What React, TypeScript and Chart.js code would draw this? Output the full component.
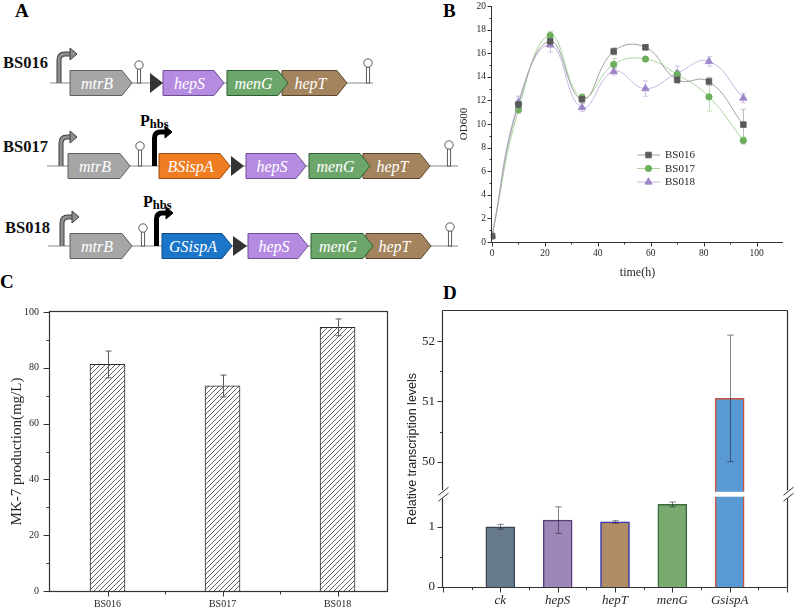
import React, { useEffect, useRef } from 'react';
import { Chart, registerables } from 'chart.js';
import { drawPoint } from 'chart.js/helpers';

Chart.register(...registerables);

const SERIF = '"Liberation Serif", "Times New Roman", serif';
const SANS = '"Liberation Sans", Arial, sans-serif';
const AXIS = '#333333';
const TEXT = '#262626';

// ---------- B: growth curves ----------
const timeHours = [0, 10, 22, 34, 46, 58, 70, 82, 95];
const od600BS016 = [0.5, 11.65, 17.0, 12.1, 16.15, 16.5, 13.75, 13.6, 9.95];
const od600BS016Sd = [0.1, 0.7, 0.3, 0.35, 0.3, 0.2, 0.3, 0.35, 1.3];
const od600BS017 = [0.5, 11.2, 17.5, 12.25, 15.05, 15.5, 14.2, 12.3, 8.6];
const od600BS017Sd = [0.1, 0.3, 0.35, 0.3, 0.5, 0.2, 0.3, 1.2, 0.3];
const od600BS018 = [0.5, 11.85, 16.7, 11.4, 14.45, 13.0, 14.3, 15.3, 12.2];
const od600BS018Sd = [0.1, 0.5, 0.6, 0.35, 0.3, 0.65, 0.6, 0.4, 0.4];

// ---------- C: MK-7 titer ----------
const strains = ['BS016', 'BS017', 'BS018'];
const mk7Titer = [81.2, 73.5, 94.5];
const mk7Sd = [4.8, 3.9, 3.0];

// ---------- D: relative transcription ----------
const genes = ['ck', 'hepS', 'hepT', 'menG', 'GsispA'];
const relTranscription = [1.0, 1.11, 1.08, 1.37, 51.05];
const relTranscriptionSd = [0.04, 0.22, 0.02, 0.04, 1.05];
const lowerRange = [0, 1.5];
const upperRange = [49.42, 52.5];
const breakValue = 49.5;

const growthSeries = [
  { label: 'BS016', values: od600BS016, sd: od600BS016Sd, marker: '#5a5a5a', line: '#a2a2a2', err: '#bdbdbd', pointStyle: 'rect', radius: 4 },
  { label: 'BS017', values: od600BS017, sd: od600BS017Sd, marker: '#6cae5c', line: '#a9d49d', err: '#bcdfb1', pointStyle: 'circle', radius: 3.2 },
  { label: 'BS018', values: od600BS018, sd: od600BS018Sd, marker: '#9d86c8', line: '#c6b8e2', err: '#d0c5e9', pointStyle: 'triangle', radius: 4.3 },
];

const geneFills = ['#687b8e', '#9f86b8', '#b18d65', '#79ab70', '#5a9ad4'];
const geneBorders = ['#3b4652', '#583f7c', '#3535b0', '#3e6b3d', '#c8553d'];

// Pin an axis box to a fixed thickness so the plot area lands where we want it.
const fixSize = (dim: 'width' | 'height', size: number) => (scale: any) => {
  scale[dim] = size;
  scale.paddingTop = 0;
  scale.paddingBottom = 0;
  scale.paddingLeft = 0;
  scale.paddingRight = 0;
};

function drawTicks(ctx: CanvasRenderingContext2D, scale: any, axisPos: number, majorLen: number, minorLen: number, tol = 6) {
  const horizontal = scale.isHorizontal();
  const lo = horizontal ? scale.left : scale.top;
  const hi = horizontal ? scale.right : scale.bottom;
  const majors: number[] = scale.ticks.map((t: any) => t.value);
  const step = majors.length > 1 ? majors[1] - majors[0] : 0;
  const minors: number[] = [];
  if (step > 0) {
    for (let v = majors[0] - step / 2; v <= scale.max + 1e-9; v += step) {
      if (v >= scale.min - 1e-9) minors.push(v);
    }
  }
  ctx.save();
  ctx.strokeStyle = AXIS;
  ctx.lineWidth = 1;
  ctx.beginPath();
  const mark = (v: number, len: number) => {
    const p = Math.round(scale.getPixelForValue(v)) + 0.5;
    if (horizontal) {
      ctx.moveTo(p, axisPos);
      ctx.lineTo(p, axisPos + len);
    } else {
      ctx.moveTo(axisPos, p);
      ctx.lineTo(axisPos - len, p);
    }
  };
  majors.forEach((v) => mark(v, majorLen));
  minors.forEach((v) => {
    const p = scale.getPixelForValue(v);
    if (p - lo < tol || hi - p < tol) return;
    mark(v, minorLen);
  });
  ctx.stroke();
  ctx.restore();
}

function errorBar(ctx: CanvasRenderingContext2D, x: number, yTop: number, yBottom: number, cap: number, color: string, width = 1) {
  const cx = Math.round(x) + 0.5;
  ctx.save();
  ctx.strokeStyle = color;
  ctx.lineWidth = width;
  ctx.beginPath();
  ctx.moveTo(cx, yTop);
  ctx.lineTo(cx, yBottom);
  ctx.moveTo(cx - cap, yTop);
  ctx.lineTo(cx + cap, yTop);
  ctx.moveTo(cx - cap, yBottom);
  ctx.lineTo(cx + cap, yBottom);
  ctx.stroke();
  ctx.restore();
}

function makeHatch(): CanvasPattern | string {
  const tile = document.createElement('canvas');
  tile.width = 5;
  tile.height = 5;
  const g = tile.getContext('2d');
  if (!g) return '#ffffff';
  g.fillStyle = '#ffffff';
  g.fillRect(0, 0, 5, 5);
  g.strokeStyle = '#3c3c3c';
  g.lineWidth = 0.8;
  g.beginPath();
  g.moveTo(-1, 6);
  g.lineTo(6, -1);
  g.moveTo(-1, 1);
  g.lineTo(1, -1);
  g.moveTo(4, 6);
  g.lineTo(6, 4);
  g.stroke();
  return g.createPattern(tile, 'repeat') ?? '#ffffff';
}

// ---------- B ----------
const growthDecor = {
  id: 'growthDecor',
  beforeDatasetsDraw(chart: any) {
    const { ctx, scales: { x, y } } = chart;
    growthSeries.forEach((s) => {
      s.values.forEach((v, i) => {
        errorBar(ctx, x.getPixelForValue(timeHours[i]), y.getPixelForValue(v + s.sd[i]), y.getPixelForValue(v - s.sd[i]), 2.5, s.err, 1);
      });
    });
  },
  afterDraw(chart: any) {
    const { ctx, chartArea: ca, scales: { x, y } } = chart;
    const L = Math.round(ca.left) - 0.5;
    const B = Math.round(ca.bottom) + 0.5;
    ctx.save();
    ctx.strokeStyle = AXIS;
    ctx.lineWidth = 1;
    ctx.beginPath();
    ctx.moveTo(L, ca.top);
    ctx.lineTo(L, B);
    ctx.lineTo(ca.right, B);
    ctx.stroke();
    ctx.restore();
    drawTicks(ctx, x, B, 4, 2);
    drawTicks(ctx, y, L, 4, 2);

    // legend: line segment with marker, then label
    const lx = ca.left + 145;
    const ly = ca.top + 149;
    ctx.save();
    chart.data.datasets.forEach((ds: any, i: number) => {
      const s = growthSeries[i];
      const yy = ly + i * 13.5;
      ctx.strokeStyle = s.line;
      ctx.lineWidth = 1;
      ctx.beginPath();
      ctx.moveTo(lx, yy);
      ctx.lineTo(lx + 23, yy);
      ctx.stroke();
      ctx.fillStyle = s.marker;
      ctx.strokeStyle = s.marker;
      ctx.lineWidth = 0.8;
      drawPoint(ctx, { pointStyle: s.pointStyle as any, radius: s.radius, borderWidth: 0.8, rotation: 0 }, lx + 11.5, yy);
      ctx.fillStyle = TEXT;
      ctx.font = `11px ${SERIF}`;
      ctx.textBaseline = 'middle';
      ctx.textAlign = 'left';
      ctx.fillText(ds.label, lx + 28, yy + 0.5);
    });
    ctx.restore();
  },
};

const growthConfig = (): any => ({
  type: 'line',
  data: {
    datasets: growthSeries.map((s) => ({
      label: s.label,
      data: timeHours.map((t, i) => ({ x: t, y: s.values[i] })),
      borderColor: s.line,
      borderWidth: 1,
      backgroundColor: s.marker,
      pointStyle: s.pointStyle,
      pointRadius: s.radius,
      pointBackgroundColor: s.marker,
      pointBorderColor: s.marker,
      pointBorderWidth: 0.8,
      tension: 0.45,
      fill: false,
    })),
  },
  options: {
    responsive: false,
    animation: false,
    devicePixelRatio: 1,
    layout: { padding: { left: 0, top: 6, right: 11, bottom: 0 } },
    plugins: { legend: { display: false }, tooltip: { enabled: false } },
    scales: {
      x: {
        type: 'linear',
        min: 0,
        max: 110,
        afterFit: fixSize('height', 48),
        grid: { display: false, drawTicks: false },
        border: { display: false },
        ticks: { stepSize: 20, includeBounds: false, padding: 6, color: TEXT, font: { family: SERIF, size: 9.5 } },
        title: { display: true, text: 'time(h)', color: TEXT, font: { family: SERIF, size: 12 }, padding: { top: 0, bottom: 10 } },
      },
      y: {
        type: 'linear',
        min: 0,
        max: 20,
        afterFit: fixSize('width', 92),
        grid: { display: false, drawTicks: false },
        border: { display: false },
        ticks: { stepSize: 2, includeBounds: false, padding: 6, color: TEXT, font: { family: SERIF, size: 9.5 } },
        title: { display: true, text: 'OD600', color: TEXT, font: { family: SERIF, size: 11 }, padding: { top: 58, bottom: 0 } },
      },
    },
  },
  plugins: [growthDecor],
});

// ---------- C ----------
const titerDecor = {
  id: 'titerDecor',
  afterDraw(chart: any) {
    const { ctx, chartArea: ca, scales: { x, y } } = chart;
    mk7Titer.forEach((v, i) => {
      errorBar(ctx, x.getPixelForValue(i + 1), y.getPixelForValue(v + mk7Sd[i]), y.getPixelForValue(v - mk7Sd[i]), 3, '#5a5a5a', 1);
    });
    const L = Math.round(ca.left) - 0.5;
    const R = Math.round(ca.right) + 0.5;
    const T = Math.round(ca.top) - 0.5;
    const B = Math.round(ca.bottom) + 0.5;
    ctx.save();
    ctx.strokeStyle = AXIS;
    ctx.lineWidth = 1.2;
    ctx.strokeRect(L, T, R - L, B - T);
    ctx.restore();
    drawTicks(ctx, x, B, 5, 3);
    drawTicks(ctx, y, L, 6, 3);
  },
};

const titerConfig = (): any => ({
  type: 'bar',
  data: {
    datasets: [
      {
        label: 'MK-7',
        data: strains.map((_, i) => ({ x: i + 1, y: mk7Titer[i] })),
        backgroundColor: makeHatch(),
        borderColor: '#2a2a2a',
        borderWidth: 1,
        barThickness: 35,
      },
    ],
  },
  options: {
    responsive: false,
    animation: false,
    devicePixelRatio: 1,
    layout: { padding: { left: 0, top: 22, right: 13, bottom: 0 } },
    plugins: { legend: { display: false }, tooltip: { enabled: false } },
    scales: {
      x: {
        type: 'linear',
        offset: false,
        min: 0.5,
        max: 3.43,
        afterFit: fixSize('height', 22),
        grid: { display: false, drawTicks: false },
        border: { display: false },
        ticks: {
          stepSize: 1,
          includeBounds: false,
          padding: 7,
          color: TEXT,
          font: { family: SERIF, size: 10 },
          callback: (v: number) => strains[v - 1] ?? '',
        },
      },
      y: {
        type: 'linear',
        min: 0,
        max: 100,
        afterFit: fixSize('width', 50),
        grid: { display: false, drawTicks: false },
        border: { display: false },
        ticks: { stepSize: 20, includeBounds: false, padding: 11, color: TEXT, font: { family: SERIF, size: 10 } },
        title: { display: true, text: 'MK-7 production(mg/L)', color: TEXT, font: { family: SERIF, size: 15 }, padding: { top: 8, bottom: 0 } },
      },
    },
  },
  plugins: [titerDecor],
});

// ---------- D ----------
const transcriptionDecor = {
  id: 'transcriptionDecor',
  afterDatasetsDraw(chart: any) {
    const { ctx, chartArea: ca, scales } = chart;
    const hi = scales.yHigh;
    const lo = scales.yLow;
    const x = scales.x;
    const gapTop = hi.getPixelForValue(breakValue);
    ctx.save();
    ctx.fillStyle = '#ffffff';
    ctx.fillRect(ca.left + 1, gapTop, ca.right - ca.left - 2, lo.top - gapTop);
    ctx.restore();
    relTranscription.forEach((v, i) => {
      const sc = v > lo.max ? hi : lo;
      const sd = relTranscriptionSd[i];
      errorBar(ctx, x.getPixelForValue(i + 1), sc.getPixelForValue(v + sd), sc.getPixelForValue(v - sd), 3.3, 'rgba(30,30,45,0.55)', 1);
    });
  },
  afterDraw(chart: any) {
    const { ctx, chartArea: ca, scales } = chart;
    const hi = scales.yHigh;
    const lo = scales.yLow;
    const x = scales.x;
    const L = Math.round(ca.left) - 0.5;
    const R = Math.round(ca.right) + 0.5;
    const T = Math.round(ca.top) - 0.5;
    const B = Math.round(ca.bottom) + 0.5;
    const mid = (hi.getPixelForValue(breakValue) + lo.top) / 2;
    ctx.save();
    ctx.strokeStyle = AXIS;
    ctx.lineWidth = 1.2;
    ctx.beginPath();
    ctx.moveTo(L, T);
    ctx.lineTo(R, T);
    ctx.moveTo(L, B);
    ctx.lineTo(R, B);
    [L, R].forEach((xx) => {
      ctx.moveTo(xx, T);
      ctx.lineTo(xx, mid - 4);
      ctx.moveTo(xx, mid + 4);
      ctx.lineTo(xx, B);
    });
    ctx.stroke();
    // break marks
    ctx.lineWidth = 1;
    ctx.beginPath();
    [L + 1, R + 1].forEach((xx) => {
      [-3, 3].forEach((dy) => {
        ctx.moveTo(xx - 5, mid + dy + 4);
        ctx.lineTo(xx + 5, mid + dy - 4);
      });
    });
    ctx.stroke();
    ctx.restore();

    drawTicks(ctx, x, B, 5, 2.5);
    drawTicks(ctx, lo, L, 5, 2.5);
    drawTicks(ctx, hi, L, 5, 2.5);

    // y-axis title spans both segments of the broken axis
    ctx.save();
    ctx.translate(13, (ca.top + ca.bottom) / 2);
    ctx.rotate(-Math.PI / 2);
    ctx.fillStyle = TEXT;
    ctx.font = `12.5px ${SANS}`;
    ctx.textAlign = 'center';
    ctx.textBaseline = 'middle';
    ctx.fillText('Relative transcription levels', 0, 0);
    ctx.restore();
  },
};

const transcriptionConfig = (): any => {
  const points = genes.map((_, i) => ({ x: i + 1, y: relTranscription[i] }));
  const barStyle = {
    backgroundColor: geneFills,
    borderColor: geneBorders,
    borderWidth: 1.5,
    barThickness: 29,
    grouped: false,
  };
  return {
    type: 'bar',
    data: {
      datasets: [
        { label: 'lower', yAxisID: 'yLow', data: points, ...barStyle },
        { label: 'upper', yAxisID: 'yHigh', data: points, ...barStyle },
      ],
    },
    options: {
      responsive: false,
      animation: false,
      devicePixelRatio: 1,
      layout: { padding: { left: 0, top: 21, right: 7, bottom: 0 } },
      plugins: { legend: { display: false }, tooltip: { enabled: false } },
      scales: {
        x: {
          type: 'linear',
          offset: false,
          min: 0,
          max: 6,
          afterFit: fixSize('height', 26),
          grid: { display: false, drawTicks: false },
          border: { display: false },
          ticks: {
            stepSize: 1,
            includeBounds: false,
            padding: 6,
            color: TEXT,
            font: { family: SERIF, size: 13, style: 'italic' },
            callback: (v: number) => genes[v - 1] ?? '',
          },
        },
        yHigh: {
          type: 'linear',
          position: 'left',
          stack: 'levels',
          stackWeight: upperRange[1] - upperRange[0],
          weight: 1,
          min: upperRange[0],
          max: upperRange[1],
          afterFit: fixSize('width', 43),
          grid: { display: false, drawTicks: false },
          border: { display: false },
          ticks: { stepSize: 1, includeBounds: false, padding: 8, color: TEXT, font: { family: SERIF, size: 13 } },
        },
        yLow: {
          type: 'linear',
          position: 'left',
          stack: 'levels',
          stackWeight: lowerRange[1] - lowerRange[0],
          weight: 0,
          min: lowerRange[0],
          max: lowerRange[1],
          afterFit: fixSize('width', 43),
          grid: { display: false, drawTicks: false },
          border: { display: false },
          ticks: { stepSize: 1, includeBounds: false, padding: 8, color: TEXT, font: { family: SERIF, size: 13 } },
        },
      },
    },
    plugins: [transcriptionDecor],
  };
};

// ---------- A: gene constructs ----------
const geneColors: Record<string, { fill: string; stroke: string }> = {
  mtrB: { fill: '#a6a6a6', stroke: '#5e5e5e' },
  hepS: { fill: '#b48be0', stroke: '#6d4f92' },
  menG: { fill: '#6da66b', stroke: '#2f5e31' },
  hepT: { fill: '#a3845e', stroke: '#5a4630' },
  BSispA: { fill: '#ef7d22', stroke: '#9c4a10' },
  GSispA: { fill: '#1b75c8', stroke: '#0e4a80' },
};

type GeneSpan = { name: string; x0: number; x1: number };
type Construct = {
  name: string;
  labelX: number;
  labelY: number;
  cy: number;
  line: [number, number];
  promoter: { x: number; top: number; end: number };
  phbs: { x: number; top: number; end: number; labelX: number; labelY: number } | null;
  terminators: { x: number; cy: number }[];
  rbs: { x0: number; x1: number }[];
  genes: GeneSpan[];
};

const constructs: Construct[] = [
  {
    name: 'BS016', labelX: 3, labelY: 68, cy: 83, line: [50, 373],
    promoter: { x: 59, top: 54, end: 77 },
    phbs: null,
    terminators: [{ x: 139, cy: 65 }, { x: 368, cy: 63 }],
    rbs: [{ x0: 150, x1: 163 }],
    genes: [
      { name: 'mtrB', x0: 70, x1: 132 },
      { name: 'hepS', x0: 163, x1: 224 },
      { name: 'hepT', x0: 282, x1: 347 },
      { name: 'menG', x0: 227, x1: 288 },
    ],
  },
  {
    name: 'BS017', labelX: 3, labelY: 152, cy: 166, line: [47, 458],
    promoter: { x: 61, top: 137, end: 77 },
    phbs: { x: 154.5, top: 132, end: 172, labelX: 140, labelY: 126 },
    terminators: [{ x: 140, cy: 146 }, { x: 449, cy: 145 }],
    rbs: [{ x0: 231, x1: 244 }],
    genes: [
      { name: 'mtrB', x0: 68, x1: 130 },
      { name: 'BSispA', x0: 159, x1: 230 },
      { name: 'hepS', x0: 246, x1: 306 },
      { name: 'hepT', x0: 363, x1: 430 },
      { name: 'menG', x0: 309, x1: 370 },
    ],
  },
  {
    name: 'BS018', labelX: 5, labelY: 233, cy: 246, line: [48, 458],
    promoter: { x: 62, top: 217, end: 79 },
    phbs: { x: 156.5, top: 213, end: 173, labelX: 143, labelY: 207 },
    terminators: [{ x: 143, cy: 228 }, { x: 450, cy: 227 }],
    rbs: [{ x0: 233, x1: 247 }],
    genes: [
      { name: 'mtrB', x0: 70, x1: 132 },
      { name: 'GSispA', x0: 162, x1: 232 },
      { name: 'hepS', x0: 248, x1: 308 },
      { name: 'hepT', x0: 366, x1: 431 },
      { name: 'menG', x0: 311, x1: 373 },
    ],
  },
];

function BentArrow({ x, base, top, end, color, outline, width }: { x: number; base: number; top: number; end: number; color: string; outline?: string; width: number }) {
  const r = 6;
  const d = `M${x},${base} L${x},${top + r} Q${x},${top} ${x + r},${top} L${end - 6},${top}`;
  const head = `M${end - 7},${top - 6} L${end},${top} L${end - 7},${top + 6} Z`;
  return (
    <g>
      {outline && <path d={d} fill="none" stroke={outline} strokeWidth={width + 2} />}
      <path d={d} fill="none" stroke={color} strokeWidth={width} />
      <path d={head} fill={color} stroke={outline ?? color} strokeWidth={1} strokeLinejoin="round" />
    </g>
  );
}

function Terminator({ x, base, cy }: { x: number; base: number; cy: number }) {
  const r = 4.2;
  return (
    <g>
      <rect x={x - 1.6} y={cy + r - 0.5} width={3.2} height={base - (cy + r) + 0.5} fill="#fff" stroke="#4a4a4a" strokeWidth={0.9} />
      <circle cx={x} cy={cy} r={r} fill="#fff" stroke="#4a4a4a" strokeWidth={0.9} />
    </g>
  );
}

function GeneArrow({ gene, cy }: { gene: GeneSpan; cy: number }) {
  const h = 25;
  const tip = 10;
  const top = cy - h / 2;
  const bot = cy + h / 2;
  const c = geneColors[gene.name];
  const d = `M${gene.x0},${top} L${gene.x1 - tip},${top} L${gene.x1},${cy} L${gene.x1 - tip},${bot} L${gene.x0},${bot} Z`;
  return (
    <g>
      <path d={d} fill={c.fill} stroke={c.stroke} strokeWidth={1} />
      <text x={(gene.x0 + gene.x1 - tip) / 2 + 1} y={cy + 5.5} textAnchor="middle" fill="#ffffff" fontStyle="italic" fontSize={16} fontFamily={SERIF}>
        {gene.name}
      </text>
    </g>
  );
}

function ConstructRow({ c }: { c: Construct }) {
  return (
    <g>
      <text x={c.labelX} y={c.labelY} fontFamily={SERIF} fontWeight="bold" fontSize={16.5} fill="#111">{c.name}</text>
      <line x1={c.line[0]} y1={c.cy} x2={c.line[1]} y2={c.cy} stroke="#8a8a8a" strokeWidth={1.2} />
      {c.terminators.map((t, i) => <Terminator key={i} x={t.x} base={c.cy} cy={t.cy} />)}
      <BentArrow x={c.promoter.x} base={c.cy} top={c.promoter.top} end={c.promoter.end} color="#8f8f8f" outline="#3e3e3e" width={3} />
      {c.phbs && (
        <g>
          <BentArrow x={c.phbs.x} base={c.cy} top={c.phbs.top} end={c.phbs.end} color="#000000" width={5} />
          <text x={c.phbs.labelX} y={c.phbs.labelY} fontFamily={SERIF} fontWeight="bold" fontSize={16} fill="#000">
            P<tspan fontSize={12.5} dy={2}>hbs</tspan>
          </text>
        </g>
      )}
      {c.rbs.map((r, i) => (
        <path key={i} d={`M${r.x0},${c.cy - 10} L${r.x1},${c.cy} L${r.x0},${c.cy + 10} Z`} fill="#333333" />
      ))}
      {c.genes.map((g) => <GeneArrow key={g.name} gene={g} cy={c.cy} />)}
    </g>
  );
}

export default function App() {
  const growthRef = useRef<HTMLCanvasElement>(null);
  const titerRef = useRef<HTMLCanvasElement>(null);
  const transRef = useRef<HTMLCanvasElement>(null);

  useEffect(() => {
    const charts = [
      new Chart(growthRef.current as HTMLCanvasElement, growthConfig()),
      new Chart(titerRef.current as HTMLCanvasElement, titerConfig()),
      new Chart(transRef.current as HTMLCanvasElement, transcriptionConfig()),
    ];
    return () => charts.forEach((c) => c.destroy());
  }, []);

  const letter = (t: string, x: number, y: number) => (
    <text x={x} y={y} fontFamily={SERIF} fontWeight="bold" fontSize={19} fill="#000">{t}</text>
  );

  return (
    <div style={{ position: 'absolute', left: 0, top: 0, width: 794, height: 613, background: '#ffffff', overflow: 'hidden' }}>
      <svg width={794} height={613} style={{ position: 'absolute', left: 0, top: 0 }}>
        {letter('A', 15, 17)}
        {letter('B', 443, 17)}
        {letter('C', 0, 288)}
        {letter('D', 443, 299)}
        {constructs.map((c) => <ConstructRow key={c.name} c={c} />)}
      </svg>
      <canvas ref={growthRef} width={394} height={290} style={{ position: 'absolute', left: 400, top: 0 }} />
      <canvas ref={titerRef} width={400} height={323} style={{ position: 'absolute', left: 0, top: 290 }} />
      <canvas ref={transRef} width={394} height={323} style={{ position: 'absolute', left: 400, top: 290 }} />
    </div>
  );
}
